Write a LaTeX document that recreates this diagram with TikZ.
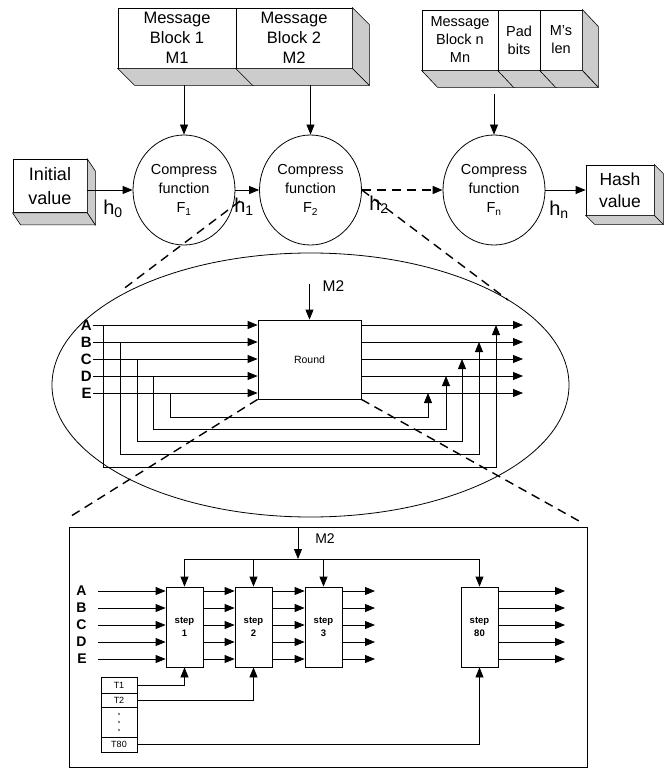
\documentclass[tikz,border=0pt]{standalone}
\usepackage{fontspec}
\setmainfont{Liberation Sans}
\usetikzlibrary{arrows.meta, positioning, calc, shapes.geometric}

\newcommand{\fsz}[2]{\fontsize{#1}{#2}\selectfont}
\newcommand{\botface}[3]{%
  \filldraw[face] (#1.south west) -- (#1.south east) -- ++(#2,#3) -- ($(#1.south west)+(#2,#3)$) -- cycle;}
\newcommand{\sideface}[3]{%
  \filldraw[face] (#1.north east) -- ++(#2,#3) -- ($(#1.south east)+(#2,#3)$) -- (#1.south east) -- cycle;}

\begin{document}
\begin{tikzpicture}[
    x=1pt, y=-1pt,
    line width=0.8pt,
    blk/.style={rectangle, draw, minimum height=60pt, inner sep=0pt, align=center},
    face/.style={draw, fill=black!20, line width=0.6pt},
    cf/.style={ellipse, draw, minimum width=102pt, minimum height=110pt, inner sep=0pt, align=center, font=\fsz{14.5}{19}},
    hlab/.style={font=\fsz{20}{24}},
    arr/.style={-{Triangle[length=10pt, width=8pt]}},
    zoomline/.style={dash pattern=on 9pt off 6pt, line width=1.4pt},
    reglab/.style={font=\bfseries\fsz{15}{17}, inner sep=0pt, anchor=east},
    detlab/.style={font=\bfseries\fsz{14}{16}, inner sep=0pt, anchor=east},
    stepbox/.style={rectangle, draw, minimum width=37pt, minimum height=80pt, inner sep=0pt, align=center, font=\bfseries\fsz{9.5}{13}},
    trow/.style={rectangle, draw, minimum width=36pt, inner sep=0pt, font=\fsz{9}{10}},
]
\useasboundingbox (0,0) rectangle (664,770);

% message blocks
\node[blk, minimum width=118pt, font=\fsz{16.5}{20}] (b1) at (177,38) {Message\\Block 1\\M1};
\node[blk, minimum width=116pt, font=\fsz{16.5}{20}] (b2) at (294,38) {Message\\Block 2\\M2};
\botface{b1}{17}{17}
\botface{b2}{17}{17}
\sideface{b2}{17}{17}

\node[blk, minimum width=76pt, font=\fsz{14.5}{18}] (bn) at (460,40) {Message\\Block n\\Mn};
\node[blk, minimum width=42pt, font=\fsz{14.5}{18}] (pad) at (519,40) {Pad\\bits};
\node[blk, minimum width=42pt, font=\fsz{14.5}{18}] (len) at (561,40) {M's\\len};
\foreach \b in {bn,pad,len}
    \botface{\b}{16}{17};
\sideface{len}{16}{17}

% compress functions
\node[cf] (f1) at (184,190) {Compress\\function\\F\textsubscript{1}};
\node[cf] (f2) at (310.5,190) {Compress\\function\\F\textsubscript{2}};
\node[cf] (fn) at (494,190) {Compress\\function\\F\textsubscript{n}};

\node[blk, minimum width=74pt, minimum height=53pt, font=\fsz{18}{24}] (init) at (50,186) {Initial\\value};
\botface{init}{8}{12}
\sideface{init}{8}{12}
\node[blk, minimum width=68pt, minimum height=50pt, font=\fsz{17.5}{22}] (hash) at (620,190) {Hash\\value};
\botface{hash}{9}{9}
\sideface{hash}{9}{9}

\coordinate (row1) at (0,85);
\coordinate (rown) at (0,94);
\draw[arr] (f1.north |- row1) -- (f1.north);
\draw[arr] (f2.north |- row1) -- (f2.north);
\draw[arr] (fn.north |- rown) -- (fn.north);

\draw[arr] (init.east |- f1.west) -- (f1.west);
\draw[arr] (f1.east) -- (f2.west);
\draw[arr, zoomline] (f2.east) -- (fn.west);
\draw[arr] (fn.east) -- (fn.east -| hash.west);

\node[hlab] (h0) at (113,209) {h\textsubscript{0}};
\node[hlab] (h1) at (244,207) {h\textsubscript{1}};
\node[hlab] (h2) at (379,205) {h\textsubscript{2}};
\node[hlab] (hn) at (559,210) {h\textsubscript{n}};

% one round
\node[ellipse, draw, minimum width=517pt, minimum height=264pt] (rnd) at (310.5,385) {};
\coordinate (zl1) at (240,201);
\coordinate (zl2) at (122,290);
\coordinate (zr2) at (508,300);
\draw[zoomline] (zl1) -- (zl2);
\draw[zoomline] (f2.east) -- (zr2);

\node[rectangle, draw, minimum width=103pt, minimum height=79pt, font=\fsz{10.5}{12}] (round) at (309.5,359.5) {Round};
\coordinate (m2in) at (0,284);
\draw[arr] (round.north |- m2in) -- (round.north);
\node[font=\fsz{15.5}{18}, anchor=west] (m2a) at (319,286) {M2};

\foreach \n/\y/\xl/\lev/\xr in {A/325/103/467/496, B/342/120/454/479, C/359/137/441/462, D/376/153/429/446, E/393/170/417/428} {
    \node[reglab] (r\n) at (92,\y) {\n};
    \draw[arr] ([xshift=1pt]r\n.east) -- (r\n.east -| round.west);
    \draw[arr] (round.east |- r\n.east) -- (523,\y);
    \draw[arr] (\xl,\y) |- (\xr,\lev) -- (\xr,\y);
}

\coordinate (zl3) at (68,518);
\coordinate (zr3) at (579,521);
\draw[zoomline] (round.south west) -- (zl3);
\draw[zoomline] (round.south east) -- (zr3);

% steps
\node[rectangle, draw, minimum width=518pt, minimum height=240pt] (detail) at (328,647) {};

\foreach \s/\x/\k in {s1/184.5/1, s2/253.5/2, s3/323.5/3, s80/479.5/80}
    \node[stepbox] (\s) at (\x,627) {step\\\k};

\coordinate (bus) at (298,559);
\draw[arr] (detail.north -| bus) -- (bus);
\draw (bus -| s1.north) -- (bus -| s80.north);
\foreach \s in {s1,s2,s3,s80}
    \draw[arr] (bus -| \s.north) -- (\s.north);
\node[font=\fsz{14}{16}] (m2b) at (325,539) {M2};

\foreach \n/\y in {A/591, B/608, C/625, D/642, E/659} {
    \node[detlab] (d\n) at (87,\y) {\n};
    \draw[arr] ([xshift=11pt]d\n.east) -- (d\n.east -| s1.west);
    \draw[arr] (s1.east |- d\n.east) -- (s2.west |- d\n.east);
    \draw[arr] (s2.east |- d\n.east) -- (s3.west |- d\n.east);
    \draw[arr] (s3.east |- d\n.east) -- (375,\y);
    \draw[arr] (s80.east |- d\n.east) -- (565,\y);
}

\node[trow, minimum height=16pt] (t1) at (119,685) {T1};
\node[trow, minimum height=14pt] (t2) at (119,700) {T2};
\node[trow, minimum height=30pt] (tdots) at (119,722) {};
\foreach \d in {-8,0,8}
    \fill ($(tdots.center)+(0,\d)$) circle[radius=0.8pt];
\node[trow, minimum height=15pt] (t80) at (119,744.5) {T80};

\draw[arr] (t1.east) -| (s1.south);
\draw[arr] (t2.east) -| (s2.south);
\draw[arr] (t80.east) -| (s80.south);

\end{tikzpicture}
\end{document}
